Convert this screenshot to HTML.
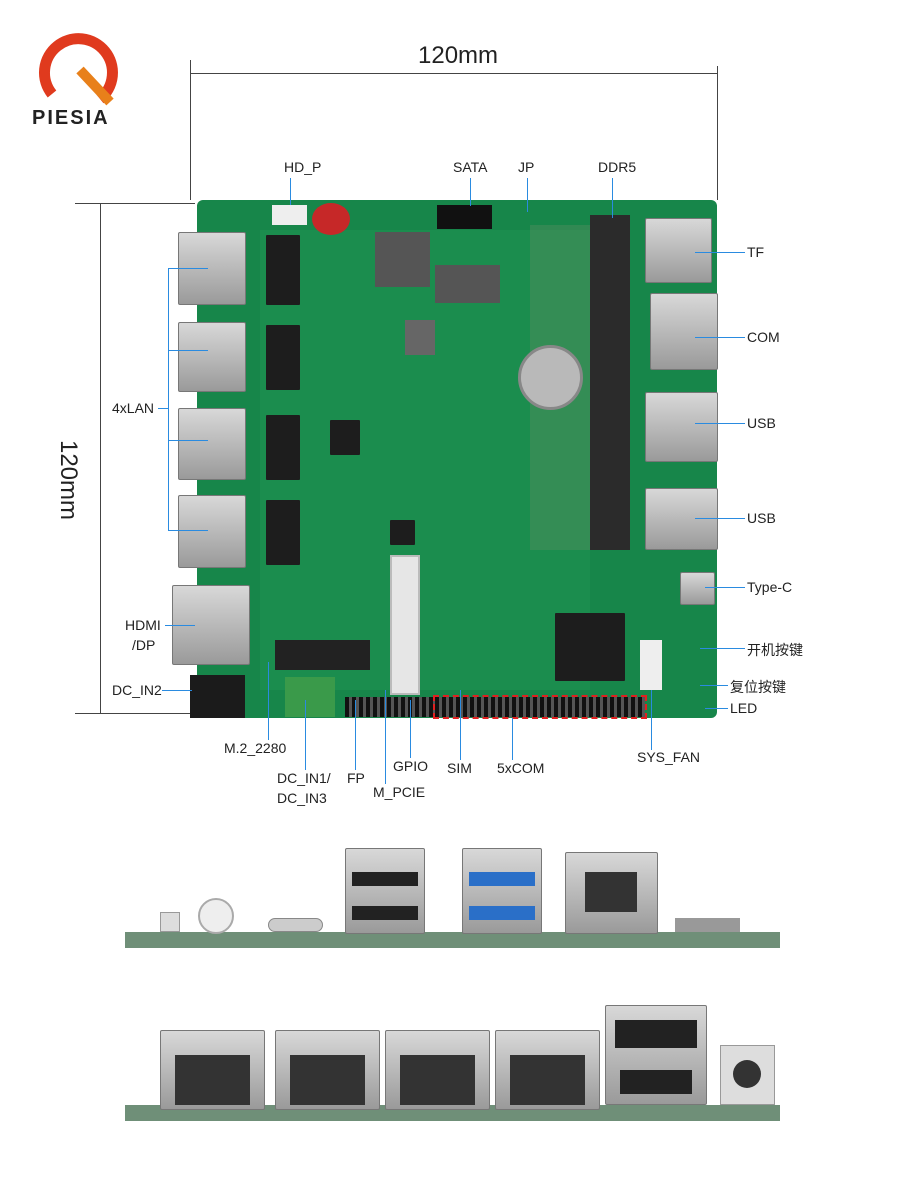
<!DOCTYPE html>
<html><head><meta charset="utf-8"><style>
*{margin:0;padding:0;box-sizing:border-box}
body{width:900px;height:1200px;background:#fff;position:relative;overflow:hidden;font-family:"Liberation Sans","Noto Sans CJK SC",sans-serif;color:#222}
.a{position:absolute}
.l{position:absolute;font-size:14px;color:#222;white-space:nowrap}
.ln{position:absolute;background:#2a8be0}
.dl{position:absolute;background:#444}
.port{position:absolute;background:linear-gradient(#d8d8d8,#9a9a9a);border:1px solid #777;border-radius:2px}
.chip{position:absolute;background:#1d1d1d;border-radius:1px}
</style></head><body>
<!-- logo -->
<svg class="a" style="left:30px;top:26px" width="110" height="100" viewBox="0 0 110 100">
<path d="M22 68 A34 34 0 1 1 70 73" fill="none" stroke="#e03a1e" stroke-width="11"/>
<path d="M50 44 L80 76" stroke="#e8801a" stroke-width="10"/>
<text x="2" y="98" font-family="Liberation Sans" font-weight="bold" font-size="20" fill="#222" letter-spacing="2">PIESIA</text>
</svg>
<!-- top dimension -->
<div class="dl" style="left:190px;top:60px;width:1px;height:140px"></div>
<div class="dl" style="left:717px;top:66px;width:1px;height:134px"></div>
<div class="dl" style="left:190px;top:73px;width:528px;height:1px"></div>
<div class="l" style="left:418px;top:42px;font-size:24px">120mm</div>
<!-- left dimension -->
<div class="dl" style="left:75px;top:203px;width:120px;height:1px"></div>
<div class="dl" style="left:75px;top:713px;width:120px;height:1px"></div>
<div class="dl" style="left:100px;top:203px;width:1px;height:510px"></div>
<div class="l" style="left:28px;top:466px;font-size:24px;transform:rotate(90deg)">120mm</div>
<!-- board -->
<div class="a" style="left:197px;top:200px;width:520px;height:518px;background:#17864a;border-radius:6px"></div>
<div class="a" style="left:260px;top:230px;width:330px;height:460px;background:#1e9352;opacity:.6"></div>
<div class="port" style="left:178px;top:232px;width:68px;height:73px"></div>
<div class="port" style="left:178px;top:322px;width:68px;height:70px"></div>
<div class="port" style="left:178px;top:408px;width:68px;height:72px"></div>
<div class="port" style="left:178px;top:495px;width:68px;height:73px"></div>
<div class="port" style="left:172px;top:585px;width:78px;height:80px"></div>
<div class="a" style="left:190px;top:675px;width:55px;height:43px;background:#1b1b1b"></div>
<div class="port" style="left:645px;top:218px;width:67px;height:65px"></div>
<div class="port" style="left:650px;top:293px;width:68px;height:77px"></div>
<div class="port" style="left:645px;top:392px;width:73px;height:70px"></div>
<div class="port" style="left:645px;top:488px;width:73px;height:62px"></div>
<div class="port" style="left:680px;top:572px;width:35px;height:33px"></div>
<div class="a" style="left:590px;top:215px;width:40px;height:335px;background:#2b2b2b"></div>
<div class="a" style="left:530px;top:225px;width:60px;height:325px;background:#5a8f62;opacity:.4"></div>
<div class="chip" style="left:266px;top:235px;width:34px;height:70px"></div>
<div class="chip" style="left:266px;top:325px;width:34px;height:65px"></div>
<div class="chip" style="left:266px;top:415px;width:34px;height:65px"></div>
<div class="chip" style="left:266px;top:500px;width:34px;height:65px"></div>
<div class="a" style="left:375px;top:232px;width:55px;height:55px;background:#555"></div>
<div class="a" style="left:435px;top:265px;width:65px;height:38px;background:#555"></div>
<div class="a" style="left:405px;top:320px;width:30px;height:35px;background:#666"></div>
<div class="a" style="left:518px;top:345px;width:65px;height:65px;border-radius:50%;background:#b9b9b9;border:3px solid #888"></div>
<div class="a" style="left:312px;top:203px;width:38px;height:32px;border-radius:50%;background:#c62828"></div>
<div class="a" style="left:437px;top:205px;width:55px;height:24px;background:#111"></div>
<div class="a" style="left:272px;top:205px;width:35px;height:20px;background:#eee"></div>
<div class="chip" style="left:555px;top:613px;width:70px;height:68px"></div>
<div class="chip" style="left:330px;top:420px;width:30px;height:35px"></div>
<div class="chip" style="left:390px;top:520px;width:25px;height:25px"></div>
<div class="a" style="left:390px;top:555px;width:30px;height:140px;background:#e6e6e6;border:2px solid #bbb"></div>
<div class="a" style="left:275px;top:640px;width:95px;height:30px;background:#222"></div>
<div class="a" style="left:285px;top:677px;width:50px;height:40px;background:#3a9a4a"></div>
<div class="a" style="left:640px;top:640px;width:22px;height:50px;background:#eee"></div>
<div class="a" style="left:345px;top:697px;width:90px;height:20px;background:repeating-linear-gradient(90deg,#111 0 4px,#555 4px 7px)"></div>
<div class="a" style="left:435px;top:697px;width:210px;height:20px;background:repeating-linear-gradient(90deg,#111 0 4px,#555 4px 7px);outline:2px dashed #e02020"></div>
<!-- labels top -->
<div class="l" style="left:284px;top:159px">HD_P</div><div class="ln" style="left:290px;top:178px;width:1px;height:27px"></div>
<div class="l" style="left:453px;top:159px">SATA</div><div class="ln" style="left:470px;top:178px;width:1px;height:28px"></div>
<div class="l" style="left:518px;top:159px">JP</div><div class="ln" style="left:527px;top:178px;width:1px;height:34px"></div>
<div class="l" style="left:598px;top:159px">DDR5</div><div class="ln" style="left:612px;top:178px;width:1px;height:40px"></div>
<!-- labels right -->
<div class="l" style="left:747px;top:244px">TF</div><div class="ln" style="left:695px;top:252px;width:50px;height:1px"></div>
<div class="l" style="left:747px;top:329px">COM</div><div class="ln" style="left:695px;top:337px;width:50px;height:1px"></div>
<div class="l" style="left:747px;top:415px">USB</div><div class="ln" style="left:695px;top:423px;width:50px;height:1px"></div>
<div class="l" style="left:747px;top:510px">USB</div><div class="ln" style="left:695px;top:518px;width:50px;height:1px"></div>
<div class="l" style="left:747px;top:579px">Type-C</div><div class="ln" style="left:705px;top:587px;width:40px;height:1px"></div>
<div class="l" style="left:747px;top:640px">开机按键</div><div class="ln" style="left:700px;top:648px;width:45px;height:1px"></div>
<div class="l" style="left:730px;top:677px">复位按键</div><div class="ln" style="left:700px;top:685px;width:28px;height:1px"></div>
<div class="l" style="left:730px;top:700px">LED</div><div class="ln" style="left:705px;top:708px;width:23px;height:1px"></div>
<!-- labels left -->
<div class="l" style="left:112px;top:400px">4xLAN</div>
<div class="ln" style="left:158px;top:408px;width:10px;height:1px"></div>
<div class="ln" style="left:168px;top:268px;width:1px;height:262px"></div>
<div class="ln" style="left:168px;top:268px;width:40px;height:1px"></div>
<div class="ln" style="left:168px;top:350px;width:40px;height:1px"></div>
<div class="ln" style="left:168px;top:440px;width:40px;height:1px"></div>
<div class="ln" style="left:168px;top:530px;width:40px;height:1px"></div>
<div class="l" style="left:125px;top:617px">HDMI</div><div class="l" style="left:132px;top:637px">/DP</div>
<div class="ln" style="left:165px;top:625px;width:30px;height:1px"></div>
<div class="l" style="left:112px;top:682px">DC_IN2</div><div class="ln" style="left:162px;top:690px;width:30px;height:1px"></div>
<!-- labels bottom -->
<div class="ln" style="left:268px;top:662px;width:1px;height:78px"></div>
<div class="l" style="left:224px;top:740px">M.2_2280</div>
<div class="ln" style="left:305px;top:700px;width:1px;height:70px"></div>
<div class="l" style="left:277px;top:770px">DC_IN1/</div><div class="l" style="left:277px;top:790px">DC_IN3</div>
<div class="ln" style="left:355px;top:700px;width:1px;height:70px"></div>
<div class="l" style="left:347px;top:770px">FP</div>
<div class="ln" style="left:385px;top:690px;width:1px;height:94px"></div>
<div class="l" style="left:373px;top:784px">M_PCIE</div>
<div class="ln" style="left:410px;top:700px;width:1px;height:58px"></div>
<div class="l" style="left:393px;top:758px">GPIO</div>
<div class="ln" style="left:460px;top:690px;width:1px;height:70px"></div>
<div class="l" style="left:447px;top:760px">SIM</div>
<div class="ln" style="left:512px;top:718px;width:1px;height:42px"></div>
<div class="l" style="left:497px;top:760px">5xCOM</div>
<div class="ln" style="left:651px;top:690px;width:1px;height:60px"></div>
<div class="l" style="left:637px;top:749px">SYS_FAN</div>
<!-- upper side view -->
<div class="a" style="left:125px;top:932px;width:655px;height:16px;background:#6f8f78"></div>
<div class="a" style="left:160px;top:912px;width:20px;height:20px;background:#ddd;border:1px solid #999"></div>
<div class="a" style="left:198px;top:898px;width:36px;height:36px;border-radius:50%;background:#eee;border:2px solid #aaa"></div>
<div class="a" style="left:268px;top:918px;width:55px;height:14px;border-radius:7px;background:#ccc;border:1px solid #888"></div>
<div class="port" style="left:345px;top:848px;width:80px;height:86px"></div>
<div class="a" style="left:352px;top:872px;width:66px;height:14px;background:#222"></div>
<div class="a" style="left:352px;top:906px;width:66px;height:14px;background:#222"></div>
<div class="port" style="left:462px;top:848px;width:80px;height:86px"></div>
<div class="a" style="left:469px;top:872px;width:66px;height:14px;background:#2a6fc8"></div>
<div class="a" style="left:469px;top:906px;width:66px;height:14px;background:#2a6fc8"></div>
<div class="port" style="left:565px;top:852px;width:93px;height:82px"></div>
<div class="a" style="left:585px;top:872px;width:52px;height:40px;background:#333"></div>
<div class="a" style="left:675px;top:918px;width:65px;height:14px;background:#999"></div>
<!-- lower side view -->
<div class="a" style="left:125px;top:1105px;width:655px;height:16px;background:#6f8f78"></div>
<div class="port" style="left:160px;top:1030px;width:105px;height:80px"></div>
<div class="port" style="left:275px;top:1030px;width:105px;height:80px"></div>
<div class="port" style="left:385px;top:1030px;width:105px;height:80px"></div>
<div class="port" style="left:495px;top:1030px;width:105px;height:80px"></div>
<div class="a" style="left:175px;top:1055px;width:75px;height:50px;background:#333"></div>
<div class="a" style="left:290px;top:1055px;width:75px;height:50px;background:#333"></div>
<div class="a" style="left:400px;top:1055px;width:75px;height:50px;background:#333"></div>
<div class="a" style="left:510px;top:1055px;width:75px;height:50px;background:#333"></div>
<div class="port" style="left:605px;top:1005px;width:102px;height:100px"></div>
<div class="a" style="left:615px;top:1020px;width:82px;height:28px;background:#222"></div>
<div class="a" style="left:620px;top:1070px;width:72px;height:24px;background:#222"></div>
<div class="a" style="left:720px;top:1045px;width:55px;height:60px;background:#ddd;border:1px solid #999"></div>
<div class="a" style="left:733px;top:1060px;width:28px;height:28px;border-radius:50%;background:#333"></div>
</body></html>
